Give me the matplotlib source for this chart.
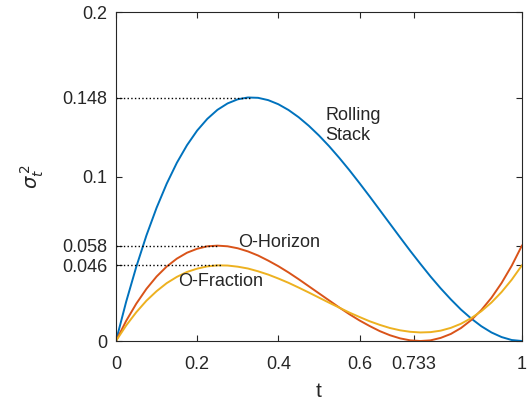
import matplotlib
matplotlib.use('Agg')
import matplotlib.pyplot as plt

plt.rcParams['font.family'] = ['Liberation Sans', 'DejaVu Sans']

# values, t in steps of 0.025
t = [0.0, 0.025, 0.05, 0.075, 0.10, 0.125, 0.15, 0.175, 0.20, 0.225,
     0.25, 0.275, 0.30, 0.325, 0.35, 0.375, 0.40, 0.425, 0.45, 0.475,
     0.50, 0.525, 0.55, 0.575, 0.60, 0.625, 0.65, 0.675, 0.70, 0.725,
     0.75, 0.775, 0.80, 0.825, 0.85, 0.875, 0.90, 0.925, 0.95, 0.975, 1.0]
rolling_stack = [0.0, 0.0238, 0.0451, 0.0642, 0.081, 0.0957, 0.1084, 0.1191, 0.128, 0.1351,
                 0.1406, 0.1445, 0.147, 0.1481, 0.1479, 0.1465, 0.144, 0.1405, 0.1361, 0.1309,
                 0.125, 0.1185, 0.1114, 0.1039, 0.096, 0.0879, 0.0796, 0.0713, 0.063, 0.0548,
                 0.0469, 0.0392, 0.032, 0.0253, 0.0191, 0.0137, 0.009, 0.0052, 0.0024, 0.0006, 0.0]
o_horizon = [0.0, 0.0122, 0.0227, 0.0317, 0.0392, 0.0453, 0.0501, 0.0537, 0.0561, 0.0576,
             0.058, 0.0576, 0.0564, 0.0545, 0.052, 0.0489, 0.0455, 0.0417, 0.0376, 0.0333,
             0.029, 0.0247, 0.0204, 0.0163, 0.0125, 0.0091, 0.006, 0.0035, 0.0016, 0.0004,
             0.0, 0.0004, 0.0019, 0.0043, 0.0079, 0.0127, 0.0188, 0.0263, 0.0353, 0.0458, 0.058]
o_fraction = [0.0, 0.0094, 0.0175, 0.0245, 0.0303, 0.0352, 0.039, 0.042, 0.044, 0.0454,
              0.046, 0.0459, 0.0452, 0.0441, 0.0424, 0.0404, 0.038, 0.0354, 0.0325, 0.0295,
              0.0264, 0.0233, 0.0203, 0.0173, 0.0146, 0.012, 0.0098, 0.0079, 0.0065, 0.0056,
              0.0052, 0.0054, 0.0063, 0.008, 0.0105, 0.0139, 0.0181, 0.0234, 0.0298, 0.0373, 0.046]

# peak markers (t at peak, value)
peaks = [(1 / 3, 0.148), (0.25, 0.058), (0.26, 0.046)]

xticks = [0, 0.2, 0.4, 0.6, 0.733, 1]
xticklabels = ['0', '0.2', '0.4', '0.6', '0.733', '1']
yticks = [0, 0.046, 0.058, 0.1, 0.148, 0.2]
yticklabels = ['0', '0.046', '0.058', '0.1', '0.148', '0.2']

fig = plt.figure(figsize=(5.32, 4.05), dpi=100)
ax = fig.add_axes([0.218, 0.158, 0.763, 0.812])

for ys, c in [(rolling_stack, '#0072BD'), (o_horizon, '#D95319'), (o_fraction, '#EDB120')]:
    ax.plot(t, ys, color=c, lw=1.4, solid_joinstyle='round')

for px, py in peaks:
    ax.plot([0, px], [py, py], ':', color='k', lw=1.0)

ax.text(0.515, 0.131, 'Rolling\nStack', fontsize=13, color='#262626',
        va='center', ha='left', linespacing=1.25)
ax.text(0.30, 0.060, 'O-Horizon', fontsize=13, color='#262626', va='center', ha='left')
ax.text(0.153, 0.036, 'O-Fraction', fontsize=13, color='#262626', va='center', ha='left')

ax.set_xlim(0, 1)
ax.set_ylim(0, 0.2)
ax.set_xticks(xticks)
ax.set_xticklabels(xticklabels)
ax.set_yticks(yticks)
ax.set_yticklabels(yticklabels)
ax.tick_params(direction='in', top=True, right=True, labelsize=13,
               colors='#262626', length=4, width=0.8)
ax.tick_params(axis='x', pad=11)
ax.tick_params(axis='y', pad=6)
for s in ax.spines.values():
    s.set_color('#262626')
    s.set_linewidth(0.8)

ax.set_xlabel('t', fontsize=15, color='#262626', labelpad=6)
ax.set_ylabel(r'$\sigma_t^{\,2}$', fontsize=14, color='#262626', labelpad=12)

fig.savefig('out.png', dpi=100)
